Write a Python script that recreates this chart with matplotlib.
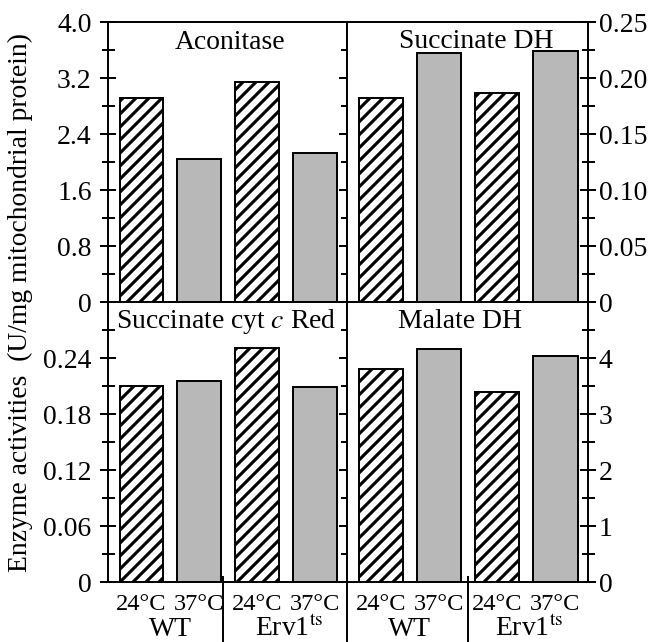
import matplotlib
matplotlib.use("Agg")
import matplotlib.pyplot as plt
from matplotlib.ticker import MultipleLocator, FixedLocator
import matplotlib.transforms as mtransforms

# data
conditions = ['24°C', '37°C', '24°C', '37°C']
strains = ['WT', r'Erv1$^{\mathrm{ts}}$']
aconitase = [2.91, 2.05, 3.15, 2.13]
succinate_dh = [0.182, 0.222, 0.187, 0.224]
succ_cytc_red = [0.210, 0.215, 0.251, 0.209]
malate_dh = [3.80, 4.16, 3.40, 4.04]

DPI = 78
W, H = 648, 643
plt.rcParams['font.family'] = ['Liberation Serif', 'DejaVu Serif']
plt.rcParams['mathtext.fontset'] = 'stix'
plt.rcParams['hatch.linewidth'] = 2.9
plt.rcParams['hatch.color'] = 'black'
FS = 25.5
FS_X = 22.5
LW = 1.8

fig = plt.figure(figsize=(W / DPI, H / DPI), dpi=DPI)
L, M, R = 108 / W, 347 / W, 588 / W
top, mid, bot = 1 - 23 / H, 1 - 303 / H, 1 - 583 / H

ax_tl = fig.add_axes([L, mid, M - L, top - mid])
ax_tr = fig.add_axes([M, mid, R - M, top - mid])
ax_bl = fig.add_axes([L, bot, M - L, mid - bot])
ax_br = fig.add_axes([M, bot, R - M, mid - bot])

x = [0, 1, 2, 3]
xlim = (-0.58, 3.56)


def draw_bars(ax, vals):
    for i, v in enumerate(vals):
        if i % 2 == 0:
            ax.bar(x[i], v, width=0.76, facecolor='white', edgecolor='black',
                   hatch='//', linewidth=LW)
        else:
            ax.bar(x[i], v, width=0.76, facecolor='#b8b8b8', edgecolor='black',
                   linewidth=LW)
    ax.set_xlim(*xlim)
    for s in ax.spines.values():
        s.set_linewidth(LW)


draw_bars(ax_tl, aconitase)
draw_bars(ax_tr, succinate_dh)
draw_bars(ax_bl, succ_cytc_red)
draw_bars(ax_br, malate_dh)

# y scales
ax_tl.set_ylim(0, 4.0)
ax_tl.yaxis.set_major_locator(FixedLocator([0, 0.8, 1.6, 2.4, 3.2, 4.0]))
ax_tl.set_yticklabels(['0', '0.8', '1.6', '2.4', '3.2', '4.0'])
ax_tl.yaxis.set_minor_locator(MultipleLocator(0.4))

ax_tr.set_ylim(0, 0.25)
ax_tr.yaxis.set_major_locator(FixedLocator([0, 0.05, 0.10, 0.15, 0.20, 0.25]))
ax_tr.set_yticklabels(['0', '0.05', '0.10', '0.15', '0.20', '0.25'])
ax_tr.yaxis.set_minor_locator(MultipleLocator(0.025))

ax_bl.set_ylim(0, 0.30)
ax_bl.yaxis.set_major_locator(FixedLocator([0, 0.06, 0.12, 0.18, 0.24]))
ax_bl.set_yticklabels(['0', '0.06', '0.12', '0.18', '0.24'])
ax_bl.yaxis.set_minor_locator(MultipleLocator(0.03))

ax_br.set_ylim(0, 5)
ax_br.yaxis.set_major_locator(FixedLocator([0, 1, 2, 3, 4]))
ax_br.set_yticklabels(['0', '1', '2', '3', '4'])
ax_br.yaxis.set_minor_locator(MultipleLocator(0.5))

for ax in (ax_tl, ax_bl):
    ax.tick_params(axis='y', which='both', direction='inout', left=True, right=True,
                   labelleft=True, labelright=False, width=LW, labelsize=FS, pad=8)
    ax.tick_params(axis='y', which='major', length=14)
    ax.tick_params(axis='y', which='minor', length=12)
for ax in (ax_tr, ax_br):
    ax.tick_params(axis='y', which='both', direction='inout', left=False, right=True,
                   labelleft=False, labelright=True, width=LW, labelsize=FS, pad=3)
    ax.tick_params(axis='y', which='major', length=14)
    ax.tick_params(axis='y', which='minor', length=12)

for ax in (ax_tl, ax_tr):
    ax.set_xticks([])
for ax in (ax_bl, ax_br):
    ax.set_xticks(x)
    ax.set_xticklabels(conditions)
    ax.tick_params(axis='x', length=0, labelsize=FS_X, pad=10)
    trans = mtransforms.blended_transform_factory(ax.transData, ax.transAxes)
    ax.text(0.5, -0.19, strains[0], transform=trans, ha='center', va='baseline', fontsize=FS)
    ax.text(2.55, -0.19, strains[1], transform=trans, ha='center', va='baseline', fontsize=FS)
    sep = 1.42 if ax is ax_bl else 1.5
    ax.plot([sep, sep], [0.018, -0.25], transform=trans, color='black', lw=LW, clip_on=False)
ax_bl.plot([1, 1], [0, -0.25], transform=ax_bl.transAxes, color='black', lw=LW, clip_on=False)

# panel titles
ax_tl.text(0.51, 0.932, 'Aconitase', transform=ax_tl.transAxes, ha='center', va='center', fontsize=FS)
ax_tr.text(0.535, 0.935, 'Succinate DH', transform=ax_tr.transAxes, ha='center', va='center', fontsize=FS)
ax_bl.text(0.496, 0.935, r'Succinate cyt $\mathit{c}$ Red', transform=ax_bl.transAxes,
           ha='center', va='center', fontsize=FS)
ax_br.text(0.469, 0.935, 'Malate DH', transform=ax_br.transAxes, ha='center', va='center', fontsize=FS)

fig.text(20 / W, 1 - 303 / H, 'Enzyme activities  (U/mg mitochondrial protein)',
         rotation=90, ha='center', va='center', fontsize=FS)

fig.savefig('out.png', dpi=DPI)
